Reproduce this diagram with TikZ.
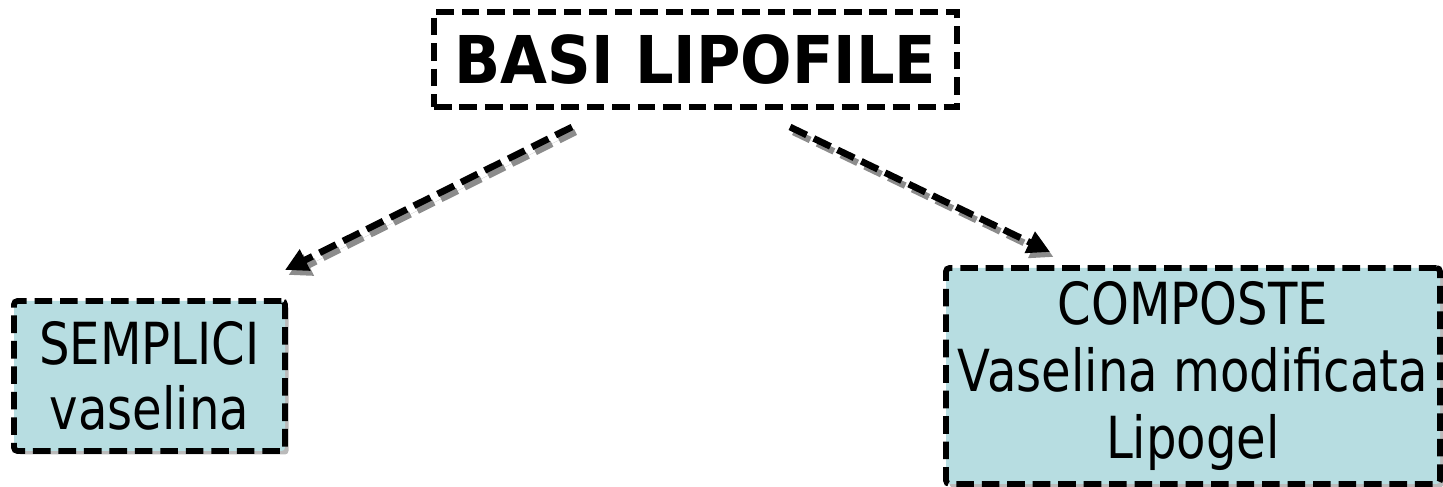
\documentclass[tikz,border=0pt]{standalone}
\usepackage{fontspec}
\setmainfont{DejaVu Sans}[FakeStretch=0.83]
\newfontfamily\titlefont{DejaVu Sans}[FakeStretch=0.92]
\usetikzlibrary{arrows.meta,shadows}
\definecolor{boxfill}{RGB}{183,221,225}
\definecolor{shadowgray}{RGB}{140,140,140}
\tikzset{
  dashbox/.style={draw, line width=3.3pt, dash pattern=on 10pt off 4.5pt},
  leafbox/.style={dashbox, fill=boxfill, rounded corners=2pt, align=center,
    font=\fontsize{33}{37}\selectfont,
    drop shadow={shadow xshift=0.07cm, shadow yshift=-0.07cm, fill=shadowgray, opacity=0.6}},
  link/.style={line width=3.8pt, dash pattern=on 10.5pt off 4.5pt, -{Triangle[length=0.45cm, width=0.45cm]}},
  linkshadow/.style={link, draw=shadowgray, fill=shadowgray}
}
\begin{document}
\begin{tikzpicture}
  \useasboundingbox (0,0) rectangle (28.86,-9.74);
  % Boxes
  \node[dashbox, minimum width=10.46cm, minimum height=1.9cm, font=\titlefont\bfseries\fontsize{37.5}{40}\selectfont] (basi) at (13.91,-1.19) {BASI LIPOFILE};
  \node[leafbox, minimum width=5.42cm, minimum height=3.0cm] (semplici) at (2.99,-7.52) {SEMPLICI\\vaselina};
  \node[leafbox, minimum width=9.88cm, minimum height=4.32cm, font=\fontsize{33}{38}\selectfont] (composte) at (23.86,-7.52) {COMPOSTE\\Vaselina modificata\\Lipogel};

  % Arrow ends
  \coordinate (ls) at (11.44,-2.54);
  \coordinate (le) at (5.70,-5.40);
  \coordinate (rs) at (15.80,-2.54);
  \coordinate (re) at (21.00,-5.04);

  % Arrows
  \draw[linkshadow, transform canvas={shift={(0.07,-0.1)}}] (ls) -- (le);
  \draw[linkshadow, transform canvas={shift={(0.07,-0.1)}}] (rs) -- (re);
  \draw[link] (ls) -- (le);
  \draw[link] (rs) -- (re);
\end{tikzpicture}
\end{document}
